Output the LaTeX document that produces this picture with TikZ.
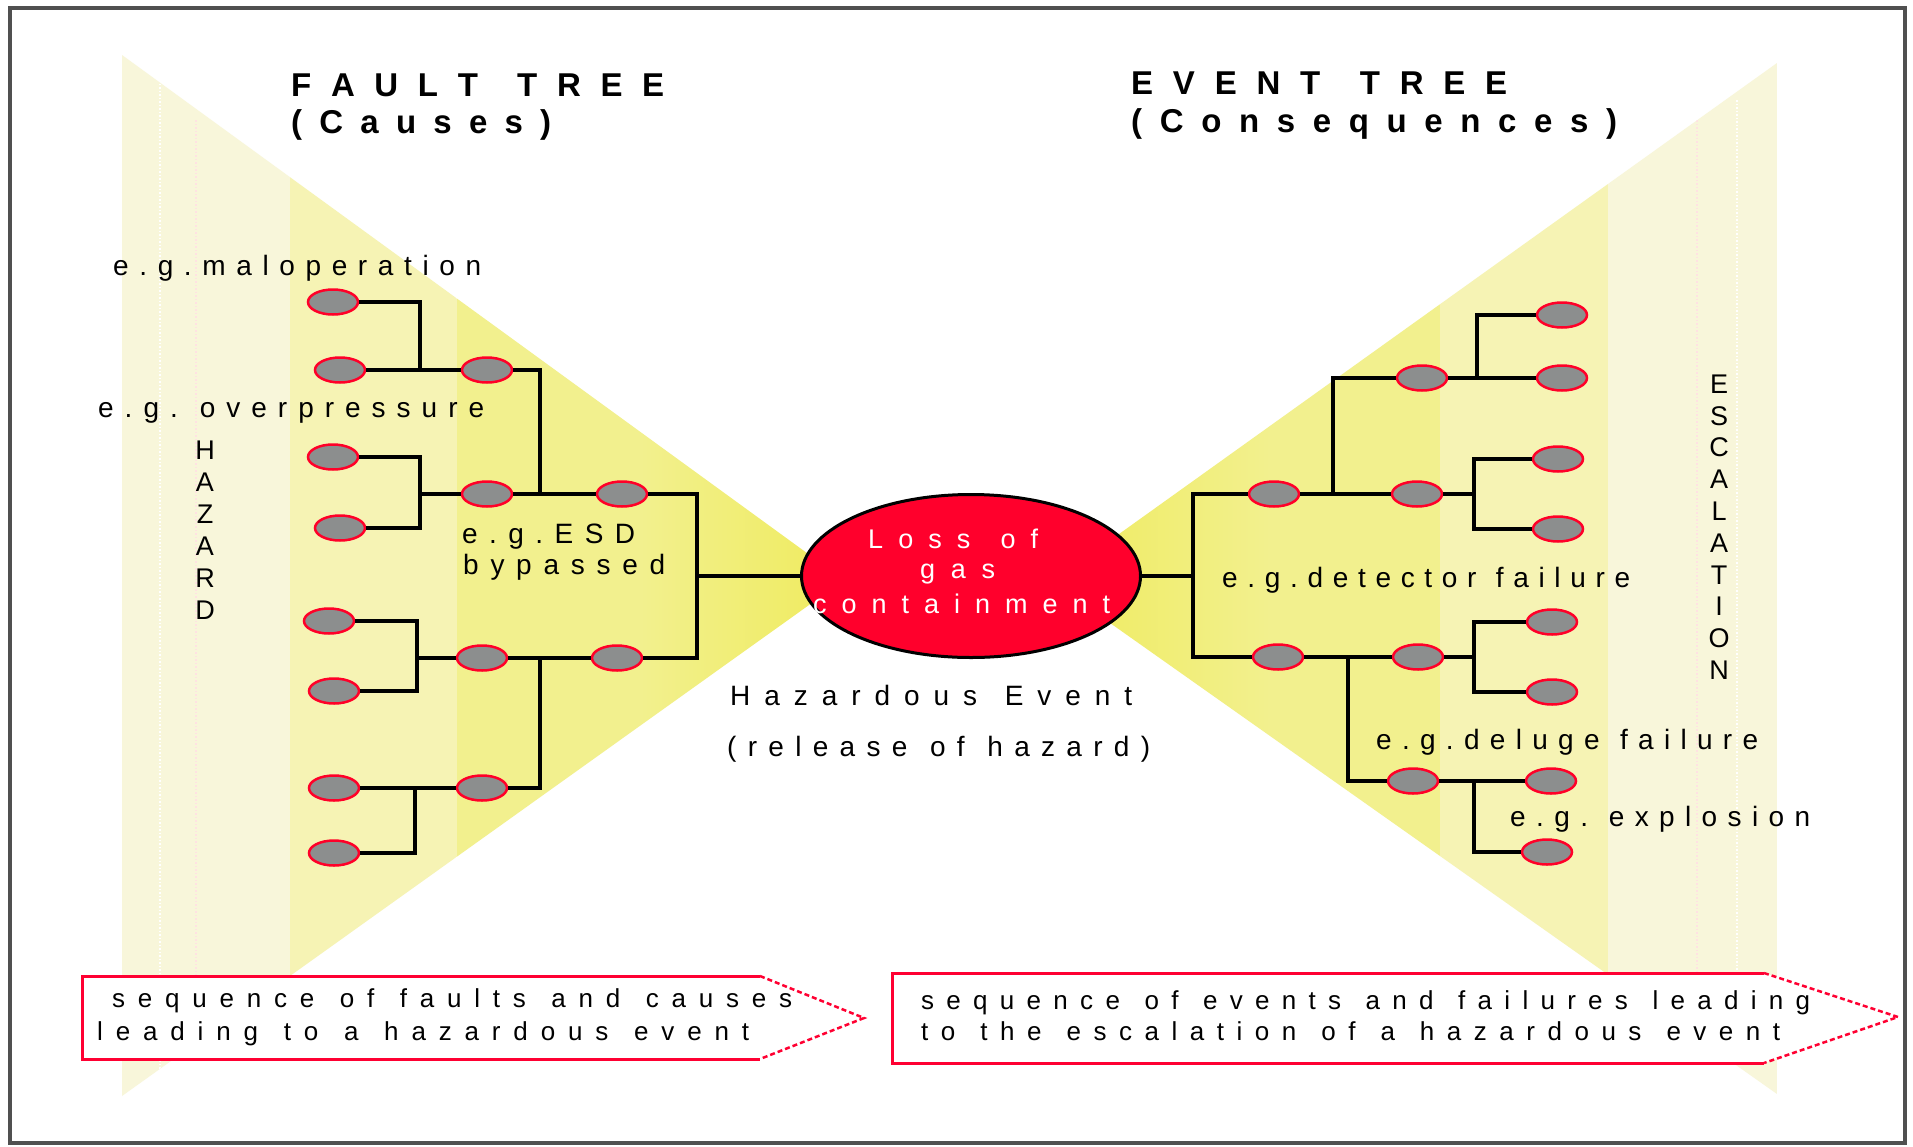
\documentclass[tikz,border=0pt]{standalone}
\usepackage{fontspec}
\setmainfont{Liberation Sans}
\usetikzlibrary{shapes.geometric}
\ExplSyntaxOn
\cs_new_protected:Npn \spreadtext #1 #2
  {
    \hbox_to_wd:nn {#1}
      {
        \bool_set_true:N \l_tmpa_bool
        \str_map_inline:nn {#2}
          {
            \bool_if:NF \l_tmpa_bool { \hfil }
            \bool_set_false:N \l_tmpa_bool
            \str_if_eq:nnF {##1} { ~ } {##1}
          }
      }
  }
\ExplSyntaxOff
\definecolor{nodered}{RGB}{255,0,40}
\definecolor{nodegray}{RGB}{140,142,142}
\definecolor{bandA}{RGB}{248,246,218}
\definecolor{bandB}{RGB}{246,243,180}
\definecolor{bandC}{RGB}{242,240,142}
\definecolor{bandD}{RGB}{239,235,92}
\definecolor{hazred}{RGB}{255,0,44}
\definecolor{framegray}{RGB}{80,80,80}
\definecolor{boxred}{RGB}{255,0,50}
\tikzset{
  conn/.style={line width=3.5pt, draw=black},
  leaf/.style={ellipse, draw=nodered, line width=2.5pt, fill=nodegray,
    minimum width=50pt, minimum height=25pt, inner sep=0pt},
  lbl/.style={anchor=base west, inner sep=0pt, font=\fontsize{28}{30}\selectfont},
  ttl/.style={anchor=base west, inner sep=0pt, font=\bfseries\fontsize{33}{36}\selectfont},
  wtxt/.style={anchor=base west, inner sep=0pt, text=white, font=\fontsize{27}{30}\selectfont},
  btxt/.style={anchor=base west, inner sep=0pt, font=\fontsize{26}{28}\selectfont},
  vlet/.style={inner sep=0pt, font=\fontsize{27}{30}\selectfont},
  faint/.style={line width=1.5pt, dotted},
}
\begin{document}
\begin{tikzpicture}[x=1pt,y=-1pt]
\useasboundingbox (0,0) rectangle (1913,1146);
\fill[white] (0,0) rectangle (1913,1146);
% left wedge
\begin{scope}
  \clip (122,55) -- (844,580) -- (122,1096) -- cycle;
  \fill[bandA] (122,0) rectangle (290,1146);
  \fill[bandB] (290,0) rectangle (457,1146);
  \fill[bandC] (457,0) rectangle (640,1146);
  \shade[left color=bandC, right color=bandD] (640,0) rectangle (850,1146);
  \draw[faint, white] (160,80) -- (160,1090);
  \draw[faint, pink!45] (196,120) -- (196,1090);
\end{scope}
% right wedge
\begin{scope}
  \clip (1777,63) -- (1052,582) -- (1777,1094) -- cycle;
  \fill[bandA] (1608,0) rectangle (1777,1146);
  \fill[bandB] (1440,0) rectangle (1608,1146);
  \fill[bandC] (1270,0) rectangle (1440,1146);
  \shade[left color=bandD, right color=bandC] (1045,0) rectangle (1270,1146);
  \draw[faint, pink!45] (1697,120) -- (1697,1090);
  \draw[faint, white] (1737,100) -- (1737,1090);
\end{scope}
% frame
\draw[framegray, line width=3.5pt] (10,8) rectangle (1905,1143);

% titles
\node[ttl] (ft) at (291,96) {\spreadtext{373pt}{FAULT TREE}};
\node[ttl] (fc) at (291,133) {\spreadtext{260pt}{(Causes)}};
\node[ttl] (et) at (1131,94) {\spreadtext{376pt}{EVENT TREE}};
\node[ttl] (ec) at (1131,132) {\spreadtext{486pt}{(Consequences)}};

% hazardous event ellipse
\node[ellipse, draw=black, line width=3pt, fill=hazred, minimum width=339pt,
  minimum height=163pt, inner sep=0pt] (E) at (971,576) {};
\node[wtxt] (t1) at (868,548) {\spreadtext{170pt}{Loss of}};
\node[wtxt] (t2) at (920,578) {\spreadtext{75pt}{gas}};
\node[wtxt] (t3) at (813,613) {\spreadtext{297pt}{containment}};
\node[lbl] (h1) at (730,705) {\spreadtext{402pt}{Hazardous Event}};
\node[lbl] (h2) at (727,756) {\spreadtext{423pt}{(release of hazard)}};

% left tree nodes
\node[leaf] (A1) at (333,302) {};
\node[leaf] (A2) at (340,370) {};
\node[leaf] (A3) at (333,457) {};
\node[leaf] (A4) at (340,528) {};
\node[leaf] (A5) at (329,621) {};
\node[leaf] (A6) at (334,691) {};
\node[leaf] (A7) at (334,788) {};
\node[leaf] (A8) at (334,853) {};
\node[leaf] (B1) at (487,370) {};
\node[leaf] (B2) at (487,494) {};
\node[leaf] (B3) at (482,658) {};
\node[leaf] (B4) at (482,788) {};
\node[leaf] (C1) at (622,494) {};
\node[leaf] (C2) at (617,658) {};
\coordinate (j1) at (420,0);
\coordinate (j3) at (417,0);
\coordinate (j4) at (415,0);
\coordinate (k1) at (540,0);
\coordinate (mL) at (697,576);

\draw[conn] (A1.east) -- (A1.east -| j1) -- (A2.east -| j1);
\draw[conn] (A2.east) -- (B1.west);
\draw[conn] (A3.east) -- (A3.east -| j1) -- (A4.east -| j1) -- (A4.east);
\draw[conn] (B2.west) -- (B2.west -| j1);
\draw[conn] (B1.east) -- (B1.east -| k1) -- (B2.east -| k1);
\draw[conn] (B2.east) -- (C1.west);
\draw[conn] (A5.east) -- (A5.east -| j3) -- (A6.east -| j3) -- (A6.east);
\draw[conn] (B3.west) -- (B3.west -| j3);
\draw[conn] (A7.east) -- (B4.west);
\draw[conn] (A7.east -| j4) -- (A8.east -| j4) -- (A8.east);
\draw[conn] (B3.east) -- (C2.west);
\draw[conn] (B4.east) -- (B4.east -| k1) -- (B3.east -| k1);
\draw[conn] (C1.east) -- (C1.east -| mL) -- (C2.east -| mL) -- (C2.east);
\draw[conn] (mL) -- (E.west);

% right tree nodes
\node[leaf] (D1) at (1274,494) {};
\node[leaf] (D2) at (1278,657) {};
\node[leaf] (E0) at (1422,378) {};
\node[leaf] (E1) at (1417,494) {};
\node[leaf] (E2) at (1418,657) {};
\node[leaf] (E3) at (1413,781) {};
\node[leaf] (F1) at (1562,315) {};
\node[leaf] (F2) at (1562,378) {};
\node[leaf] (F3) at (1558,459) {};
\node[leaf] (F4) at (1558,529) {};
\node[leaf] (F5) at (1552,622) {};
\node[leaf] (F6) at (1552,692) {};
\node[leaf] (F7) at (1551,781) {};
\node[leaf] (F8) at (1547,852) {};
\coordinate (p) at (1193,576);
\coordinate (q1) at (1333,0);
\coordinate (q2) at (1348,0);
\coordinate (r1) at (1477,0);
\coordinate (r2) at (1474,0);

\draw[conn] (E.east) -- (p);
\draw[conn] (D1.west) -- (D1.west -| p) -- (D2.west -| p) -- (D2.west);
\draw[conn] (D1.east) -- (E1.west);
\draw[conn] (D1.east -| q1) -- (E0.west -| q1) -- (E0.west);
\draw[conn] (E0.east) -- (F2.west);
\draw[conn] (F2.west -| r1) -- (F1.west -| r1) -- (F1.west);
\draw[conn] (E1.east) -- (E1.east -| r2);
\draw[conn] (F3.west) -- (F3.west -| r2) -- (F4.west -| r2) -- (F4.west);
\draw[conn] (D2.east) -- (E2.west);
\draw[conn] (D2.east -| q2) -- (E3.west -| q2) -- (E3.west);
\draw[conn] (E2.east) -- (E2.east -| r2);
\draw[conn] (F5.west) -- (F5.west -| r2) -- (F6.west -| r2) -- (F6.west);
\draw[conn] (E3.east) -- (F7.west);
\draw[conn] (F7.west -| r2) -- (F8.west -| r2) -- (F8.west);

% labels
\node[lbl] (l1) at (113,275) {\spreadtext{368pt}{e.g.maloperation}};
\node[lbl] (l2) at (98,417) {\spreadtext{386pt}{e.g. overpressure}};
\node[lbl] (l3) at (462,543) {\spreadtext{173pt}{e.g.ESD}};
\node[lbl] (l4) at (463,574) {\spreadtext{202pt}{bypassed}};
\node[lbl] (l5) at (1222,587) {\spreadtext{408pt}{e.g.detector failure}};
\node[lbl] (l6) at (1376,749) {\spreadtext{382pt}{e.g.deluge failure}};
\node[lbl] (l7) at (1510,826) {\spreadtext{300pt}{e.g. explosion}};

% vertical words
\foreach \ch [count=\i from 0] in {H,A,Z,A,R,D}
  \node[vlet] (hz\i) at (205,450+32*\i) {\ch};
\foreach \ch [count=\i from 0] in {E,S,C,A,L,A,T,I,O,N}
  \node[vlet] (es\i) at (1719,384+31.8*\i) {\ch};

% bottom callouts
\fill[white] (82,976) -- (760,976) -- (864,1018) -- (760,1059) -- (82,1059) -- cycle;
\draw[boxred, line width=3pt] (760,976) -- (82,976) -- (82,1059) -- (760,1059);
\draw[boxred, line width=2.5pt, dash pattern=on 5pt off 3pt] (760,976) -- (864,1018) -- (760,1059);
\node[btxt] (b1) at (112,1007) {\spreadtext{680pt}{sequence of faults and causes}};
\node[btxt] (b2) at (97,1040) {\spreadtext{652pt}{leading to a hazardous event}};

\fill[white] (892,973) -- (1764,973) -- (1898,1017) -- (1764,1063) -- (892,1063) -- cycle;
\draw[boxred, line width=3pt] (1764,973) -- (892,973) -- (892,1063) -- (1764,1063);
\draw[boxred, line width=2.5pt, dash pattern=on 5pt off 3pt] (1764,973) -- (1898,1017) -- (1764,1063);
\node[btxt] (b3) at (921,1009) {\spreadtext{889pt}{sequence of events and failures leading}};
\node[btxt] (b4) at (921,1040) {\spreadtext{859pt}{to the escalation of a hazardous event}};
\end{tikzpicture}
\end{document}
